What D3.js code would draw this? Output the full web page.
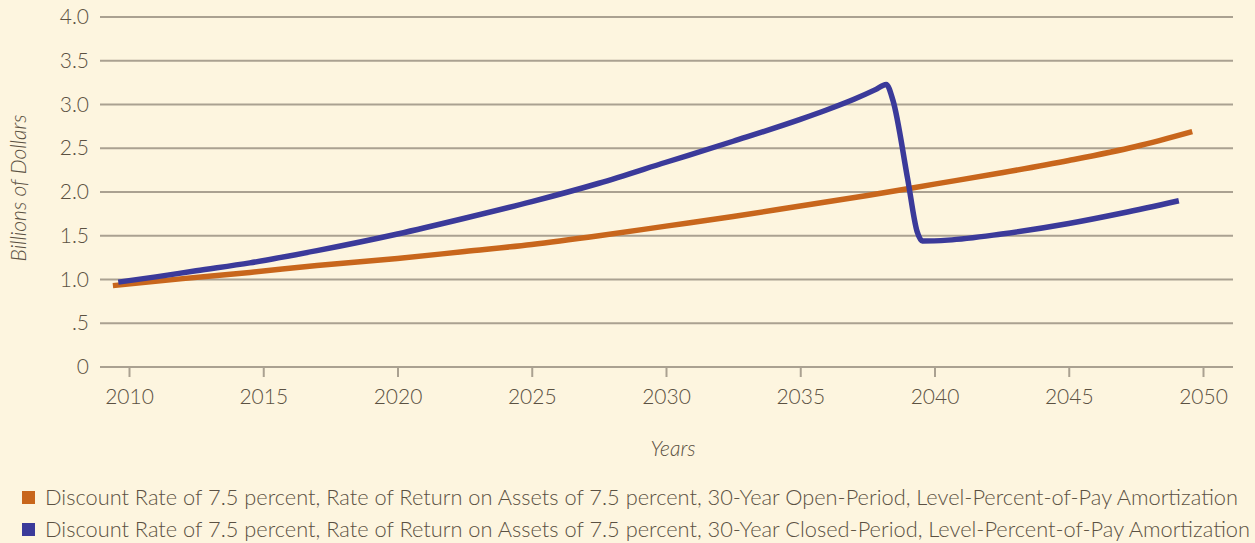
<!DOCTYPE html>
<html lang="en">
<head>
<meta charset="utf-8">
<title>Billions of Dollars by Year</title>
<script src="https://d3js.org/d3.v7.min.js"></script>
<style>
  html, body { margin: 0; padding: 0; background: #fdf5df; }
  svg { display: block; }
  text { font-family: Lato, "Open Sans", sans-serif; font-weight: 300; fill: #5b5142; }
</style>
</head>
<body>
<script>
// Data
var openYears   = [2009.4, 2012, 2014.5, 2017, 2020, 2022.5, 2025, 2027.5, 2030, 2032.5, 2035, 2037.5, 2040, 2042.5, 2045, 2047.5, 2049.6];
var openValues  = [0.93, 1.01, 1.08, 1.16, 1.24, 1.32, 1.40, 1.50, 1.61, 1.72, 1.84, 1.96, 2.09, 2.22, 2.36, 2.52, 2.69];

var closedYears  = [2009.6, 2011, 2012.5, 2014.5, 2017, 2020, 2022.5, 2025, 2027.5, 2030, 2032.5, 2035, 2036, 2037, 2037.8, 2038.2, 2038.45, 2039.0, 2039.35, 2039.55, 2040.5, 2042.5, 2045, 2047, 2049.1];
var closedValues = [0.97, 1.03, 1.10, 1.19, 1.33, 1.52, 1.70, 1.89, 2.10, 2.34, 2.58, 2.83, 2.94, 3.06, 3.17, 3.23, 3.05, 2.15, 1.55, 1.44, 1.45, 1.52, 1.64, 1.76, 1.90];

var yTicks = [0, 0.5, 1.0, 1.5, 2.0, 2.5, 3.0, 3.5, 4.0];
var yTickLabels = ["0", ".5", "1.0", "1.5", "2.0", "2.5", "3.0", "3.5", "4.0"];
var xTicks = [2010, 2015, 2020, 2025, 2030, 2035, 2040, 2045, 2050];

var seriesNames = [
  "Discount Rate of 7.5 percent, Rate of Return on Assets of 7.5 percent, 30-Year Open-Period, Level-Percent-of-Pay Amortization",
  "Discount Rate of 7.5 percent, Rate of Return on Assets of 7.5 percent, 30-Year Closed-Period, Level-Percent-of-Pay Amortization"
];
var seriesColors = ["#c8661c", "#3b3a9a"];

var w = 1255, h = 543;

var svg = d3.select("body").append("svg")
  .attr("width", w)
  .attr("height", h);

var x = d3.scaleLinear().domain([2010, 2050]).range([129, 1203]);
var y = d3.scaleLinear().domain([0, 4]).range([367, 17]);

var gridLeft = 100, gridRight = 1233;

// horizontal gridlines
svg.append("g")
  .selectAll("line")
  .data(yTicks)
  .enter().append("line")
  .attr("x1", gridLeft)
  .attr("x2", gridRight)
  .attr("y1", function(d) { return y(d); })
  .attr("y2", function(d) { return y(d); })
  .attr("stroke", "#aaa191")
  .attr("stroke-width", 2);

// y tick labels
svg.append("g")
  .selectAll("text")
  .data(yTicks)
  .enter().append("text")
  .attr("x", 89)
  .attr("y", function(d) { return y(d) + 7; })
  .attr("text-anchor", "end")
  .style("font-size", "21px")
  .text(function(d, i) { return yTickLabels[i]; });

// x axis ticks and labels
var xAxis = d3.axisBottom(x)
  .tickValues(xTicks)
  .tickSize(10)
  .tickPadding(12)
  .tickFormat(d3.format("d"));

var gx = svg.append("g")
  .attr("transform", "translate(0," + y(0) + ")")
  .call(xAxis);
gx.select(".domain").remove();
gx.selectAll(".tick line").attr("stroke", "#aaa191").attr("stroke-width", 2);
gx.selectAll(".tick text")
  .style("font-size", "21px")
  .style("font-family", "Lato, 'Open Sans', sans-serif")
  .style("font-weight", 300)
  .attr("fill", "#5b5142");

// axis titles
svg.append("text")
  .attr("transform", "translate(26,188) rotate(-90)")
  .attr("text-anchor", "middle")
  .style("font-size", "21px")
  .style("font-style", "italic")
  .text("Billions of Dollars");

svg.append("text")
  .attr("x", 673)
  .attr("y", 456)
  .attr("text-anchor", "middle")
  .style("font-size", "21px")
  .style("font-style", "italic")
  .text("Years");

// lines
var line = d3.line()
  .x(function(d) { return x(d[0]); })
  .y(function(d) { return y(d[1]); })
  .curve(d3.curveMonotoneX);

var openData = d3.zip(openYears, openValues);
var closedData = d3.zip(closedYears, closedValues);

svg.append("path")
  .datum(openData)
  .attr("d", line)
  .attr("fill", "none")
  .attr("stroke", seriesColors[0])
  .attr("stroke-width", 5.5)
  .attr("stroke-linejoin", "round");

svg.append("path")
  .datum(closedData)
  .attr("d", line)
  .attr("fill", "none")
  .attr("stroke", seriesColors[1])
  .attr("stroke-width", 5.5)
  .attr("stroke-linejoin", "round");

// legend
var legendWidths = [1193, 1205];
var legend = svg.append("g")
  .selectAll("g")
  .data(seriesNames)
  .enter().append("g")
  .attr("transform", function(d, i) { return "translate(22," + (491 + i * 32) + ")"; });

legend.append("rect")
  .attr("width", 13)
  .attr("height", 13)
  .attr("fill", function(d, i) { return seriesColors[i]; });

legend.append("text")
  .attr("x", 23)
  .attr("y", 14)
  .style("font-size", "21px")
  .attr("textLength", function(d, i) { return legendWidths[i]; })
  .attr("lengthAdjust", "spacingAndGlyphs")
  .text(function(d) { return d; });
</script>
</body>
</html>
